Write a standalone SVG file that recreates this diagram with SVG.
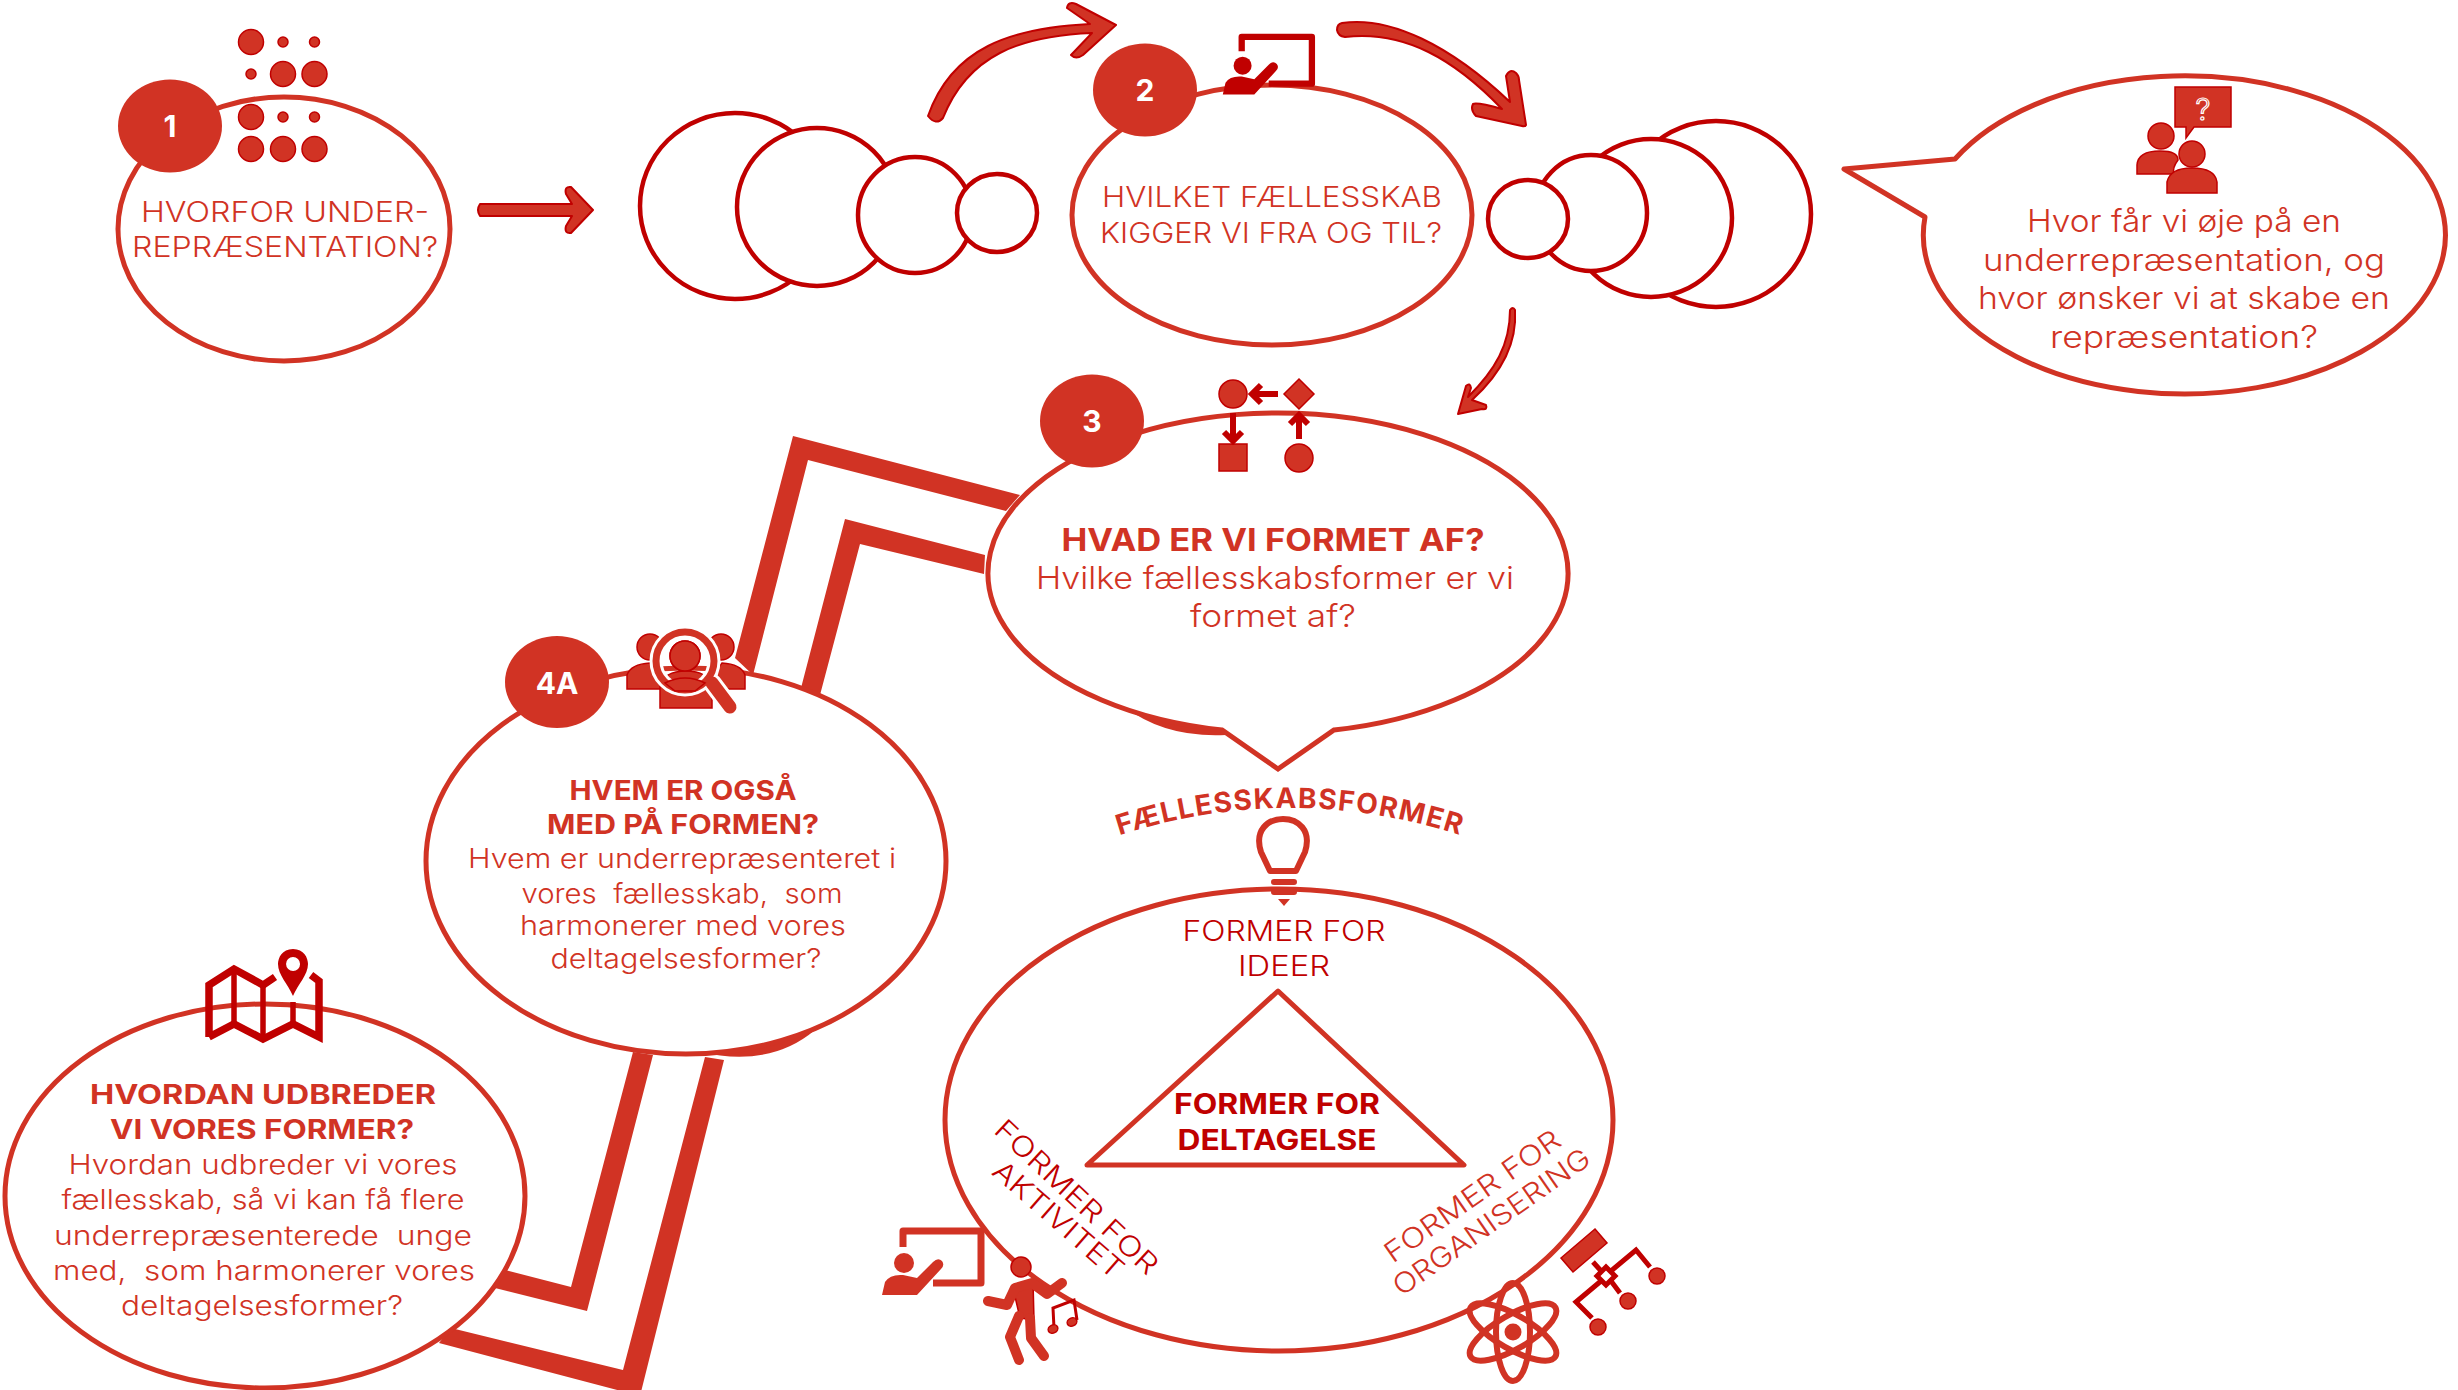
<svg xmlns="http://www.w3.org/2000/svg" xmlns:xlink="http://www.w3.org/1999/xlink" width="2458" height="1390" viewBox="0 0 2458 1390">
<style>
text{font-family:"Inter","Liberation Sans",sans-serif;fill:#d13324;font-weight:300;text-anchor:middle;white-space:pre}
.b{font-weight:700}
.d{fill:#c00000}
.bub{fill:#fff;stroke:#d13324;stroke-width:5}
.st{fill:#fff;stroke:#c00000;stroke-width:4.5}
.num{fill:#d13324}
.numt{fill:#fff;font-weight:700;font-size:30px}
.ic{fill:#d13324;stroke:#c00000;stroke-width:1.5}
.dk{fill:#c00000}
.ln{fill:none;stroke:#d13324;stroke-linecap:round;stroke-linejoin:round}
.band{fill:#d13324}
.arr{fill:#d13324;stroke:#c00000;stroke-width:2;stroke-linejoin:round}
</style>
<defs>
<g id="teacher">
<path d="M903 1247V1231H981V1283H933" fill="none" stroke-width="7" stroke-linejoin="round"/>
<circle cx="904" cy="1263" r="10" stroke="none"/>
<path d="M882 1295L885 1282Q890 1274 903 1275L917 1278L933 1262Q938 1257 942 1261Q945 1265 941 1269L917 1295Z" stroke="none"/>
</g>
</defs>
<rect width="2458" height="1390" fill="#fff"/>
<g id="connectors">
<polygon class="band" points="1020,495 793,436 735,658 753,675 808,460 1006,511"/>
<polygon class="band" points="985,555 845,519 801,688 820,695 860,544 984,574"/>
<polygon class="band" points="633,1052 571,1287 505,1270 495,1288 587,1311 653,1055"/>
<polygon class="band" points="705,1057 623,1370 451,1328 439,1343 640,1396 724,1060"/>
<path class="band" d="M700 1052Q770 1068 815 1030L800 1020L700 1040Z"/>
<path class="band" d="M1125 707Q1165 738 1226 735L1226 720L1130 695Z"/>
<path class="arr" d="M480 204H572L566 194Q564 186 571 187L593 210L571 233Q564 234 566 226L572 216H480Q476 210 480 204Z"/>
<path class="arr" d="M928 116C952 48 1010 28 1090 24L1067 8Q1068 1 1076 4L1116 25L1083 55Q1076 60 1071 55L1092 33C1020 36 968 55 943 118Q936 126 928 116Z"/>
<path class="arr" d="M1337 30Q1337 24 1342 23C1390 16 1450 45 1510 102L1506 76Q1510 68 1516 73Q1519 76 1519 80L1526 125Q1525 127 1522 126L1476 116Q1470 110 1473 104Q1477 102 1502 109C1455 60 1405 30 1345 37Q1338 36 1337 30Z"/>
<path class="arr" d="M1510 310Q1513 306 1515 310C1517 340 1505 370 1472 400L1486 405Q1488 410 1482 409L1458 414L1466 386Q1470 382 1471 388L1468 397C1495 370 1510 345 1510 310Z"/>
</g>
<g id="stack-left">
<ellipse class="st" cx="735" cy="206" rx="95" ry="93"/>
<ellipse class="st" cx="817" cy="207" rx="80" ry="79"/>
<ellipse class="st" cx="915" cy="215" rx="57" ry="58"/>
<ellipse class="st" cx="997" cy="213" rx="40" ry="39"/>
</g>
<g id="stack-right">
<ellipse class="st" cx="1716" cy="214" rx="95" ry="93"/>
<ellipse class="st" cx="1651" cy="218" rx="81" ry="79"/>
<ellipse class="st" cx="1591" cy="213" rx="56" ry="58"/>
<ellipse class="st" cx="1528" cy="219" rx="40" ry="39"/>
</g>
<g id="node-1">
<ellipse class="bub" cx="284" cy="229" rx="166" ry="132"/>
<ellipse class="num" cx="170" cy="126" rx="52" ry="46.5"/>
<text class="numt" x="170" y="137">1</text>
<g class="ic">
<ellipse cx="251" cy="42" rx="12.5" ry="12.5"/><circle cx="283" cy="42" r="5"/><circle cx="314.500" cy="42" r="5"/>
<circle cx="251" cy="74" r="5"/><ellipse cx="283" cy="74" rx="12.5" ry="12.5"/><ellipse cx="314.500" cy="74" rx="12.5" ry="12.5"/>
<ellipse cx="251" cy="117" rx="12.5" ry="12.5"/><circle cx="283" cy="117" r="5"/><circle cx="314.500" cy="117" r="5"/>
<ellipse cx="251" cy="149" rx="12.5" ry="12.5"/><ellipse cx="283" cy="149" rx="12.5" ry="12.5"/><ellipse cx="314.500" cy="149" rx="12.5" ry="12.5"/>
</g>
<text x="285" y="222" font-size="28" textLength="288" lengthAdjust="spacingAndGlyphs">HVORFOR UNDER-</text>
<text x="285" y="257" font-size="28" textLength="306" lengthAdjust="spacingAndGlyphs">REPRÆSENTATION?</text>
</g>
<g id="node-2">
<ellipse class="bub" cx="1272" cy="215" rx="200" ry="130"/>
<ellipse class="num" cx="1145" cy="90" rx="52" ry="46.5"/>
<text class="numt" x="1145" y="101">2</text>
<use href="#teacher" transform="translate(429,-1071) scale(.9)" fill="#c00000" stroke="#c00000"/>
<text x="1272" y="207" font-size="28" textLength="340" lengthAdjust="spacingAndGlyphs">HVILKET FÆLLESSKAB</text>
<text x="1271" y="243" font-size="28" textLength="342" lengthAdjust="spacingAndGlyphs">KIGGER VI FRA OG TIL?</text>
</g>
<g id="node-question">
<path class="bub" d="M1955 159A261 159 0 1 1 1925 217L1844 169Z" stroke-linejoin="round"/>
<path class="ic" d="M2175 87H2231V127H2194L2186 138L2186 127H2175Z"/>
<text x="2203" y="120" font-size="30" style="fill:#d13324;stroke:#fff;stroke-width:1.2">?</text>
<g class="ic">
<ellipse cx="2161" cy="136" rx="13" ry="13"/>
<path d="M2137 174V165Q2138 151 2160 151Q2178 151 2178 160Q2172 168 2174 174Z"/>
<ellipse cx="2192" cy="154" rx="13" ry="13"/>
<path d="M2167 193V182Q2170 168 2192 168Q2215 168 2217 182V193Z"/>
</g>
<text x="2184" y="232" font-size="31" textLength="314" lengthAdjust="spacingAndGlyphs">Hvor får vi øje på en</text>
<text x="2184" y="271" font-size="31" textLength="402" lengthAdjust="spacingAndGlyphs">underrepræsentation, og</text>
<text x="2184" y="309" font-size="31" textLength="412" lengthAdjust="spacingAndGlyphs">hvor ønsker vi at skabe en</text>
<text x="2184" y="348" font-size="31" textLength="268" lengthAdjust="spacingAndGlyphs">repræsentation?</text>
</g>
<g id="node-3">
<path class="bub" d="M1334 730A290 160 0 1 0 1222 730L1278 769Z"/>
<ellipse class="num" cx="1092" cy="421" rx="52" ry="46.5"/>
<text class="numt" x="1092" y="432">3</text>
<g class="ic">
<circle cx="1233" cy="394" r="14"/><path d="M1299 379L1314 394L1299 409L1284 394Z"/>
<rect x="1219" y="444" width="28" height="27"/><circle cx="1299" cy="458" r="14"/>
</g>
<path d="M1278 394H1252M1261 385L1252 394L1261 403" fill="none" stroke="#c00000" stroke-width="6"/>
<path d="M1233 413V441M1224 432L1233 441L1242 432" fill="none" stroke="#c00000" stroke-width="6"/>
<path d="M1299 439V415M1290 424L1299 415L1308 424" fill="none" stroke="#c00000" stroke-width="6"/>
<text class="b" x="1273" y="551" font-size="31" textLength="423" lengthAdjust="spacingAndGlyphs">HVAD ER VI FORMET AF?</text>
<text x="1275" y="589" font-size="31" textLength="478" lengthAdjust="spacingAndGlyphs">Hvilke fællesskabsformer er vi</text>
<text x="1273" y="627" font-size="31" textLength="166" lengthAdjust="spacingAndGlyphs">formet af?</text>
</g>
<g id="node-4a">
<ellipse class="bub" cx="686" cy="861" rx="260" ry="193"/>
<ellipse class="num" cx="557" cy="682" rx="52" ry="46"/>
<text class="numt" x="557" y="694" font-size="32">4A</text>
<g class="ic">
<ellipse cx="650" cy="647" rx="13" ry="13"/><ellipse cx="721" cy="647" rx="13" ry="13"/>
<path d="M627 689V675Q631 664 650 663L670 689Z"/><path d="M745 689V675Q741 664 722 663L702 689Z"/>
</g>
<g class="ic">
<ellipse cx="685" cy="656" rx="15" ry="15"/>
<path d="M660 708V686Q664 671 686 671Q708 671 712 686V708Z"/>
</g>
<circle cx="685" cy="661" r="29" fill="none" stroke="#fff" stroke-width="13"/>
<path d="M712 683L730 707" stroke="#fff" stroke-width="19" stroke-linecap="round"/>
<circle cx="685" cy="661" r="29" fill="none" stroke="#d13324" stroke-width="7"/>
<path d="M712 683L730 707" stroke="#d13324" stroke-width="13" stroke-linecap="round"/>
<path d="M685 656m-15 0a15 15 0 1 0 30 0a15 15 0 1 0-30 0" class="ic"/>
<path d="M665 683Q685 673 705 683L695 691L675 691Z" class="ic"/>
<text class="b" x="683" y="800" font-size="27" textLength="227" lengthAdjust="spacingAndGlyphs">HVEM ER OGSÅ</text>
<text class="b" x="683" y="834" font-size="27" textLength="272" lengthAdjust="spacingAndGlyphs">MED PÅ FORMEN?</text>
<text x="682" y="868" font-size="27.500" textLength="428" lengthAdjust="spacingAndGlyphs">Hvem er underrepræsenteret i</text>
<text x="682" y="903" font-size="27.500" textLength="321" lengthAdjust="spacingAndGlyphs">vores  fællesskab,  som</text>
<text x="683" y="935" font-size="27.500" textLength="326" lengthAdjust="spacingAndGlyphs">harmonerer med vores</text>
<text x="686" y="968" font-size="27.500" textLength="271" lengthAdjust="spacingAndGlyphs">deltagelsesformer?</text>
</g>
<g id="node-5">
<ellipse class="bub" cx="265" cy="1196" rx="260" ry="192"/>
<path d="M209 1037L234 1024L263 1039L293 1024L319 1037V981L311 975M209 1037V985L234 969L263 985L275 977" fill="none" stroke="#c00000" stroke-width="7.500"/>
<path d="M234 969V1024M263 985V1039M293 1002V1024" fill="none" stroke="#c00000" stroke-width="5.500"/>
<path fill-rule="evenodd" d="M293 949C304 949 308 958 308 964C308 975 298 984 293 996C288 984 278 975 278 964C278 958 282 949 293 949ZM293 957A7 7 0 1 0 293.100 971A7 7 0 1 0 293 957Z" class="dk"/>
<text class="b" x="263" y="1104" font-size="27" textLength="346" lengthAdjust="spacingAndGlyphs">HVORDAN UDBREDER</text>
<text class="b" x="262" y="1139" font-size="27" textLength="304" lengthAdjust="spacingAndGlyphs">VI VORES FORMER?</text>
<text x="263" y="1174" font-size="27.500" textLength="389" lengthAdjust="spacingAndGlyphs">Hvordan udbreder vi vores</text>
<text x="263" y="1209" font-size="27.500" textLength="403" lengthAdjust="spacingAndGlyphs">fællesskab, så vi kan få flere</text>
<text x="263" y="1245" font-size="27.500" textLength="418" lengthAdjust="spacingAndGlyphs">underrepræsenterede  unge</text>
<text x="264" y="1280" font-size="27.500" textLength="422" lengthAdjust="spacingAndGlyphs">med,  som harmonerer vores</text>
<text x="262" y="1315" font-size="27.500" textLength="282" lengthAdjust="spacingAndGlyphs">deltagelsesformer?</text>
</g>
<g id="node-forms">
<ellipse class="bub" cx="1279" cy="1120" rx="334" ry="231"/>
<path d="M1278 991L1464 1165H1087Z" fill="none" stroke="#d13324" stroke-width="5" stroke-linejoin="round"/>
<path id="arc" d="M1105 840Q1290 776 1475 840" fill="none"/>
<text class="b" font-size="28" letter-spacing="1.4"><textPath href="#arc" startOffset="50%">FÆLLESSKABSFORMER</textPath></text>
<path d="M1270 871L1261 852C1254 830 1268 819 1283 819C1298 819 1312 830 1305 852L1296 871Z" fill="none" stroke="#d13324" stroke-width="6" stroke-linejoin="round"/>
<path d="M1274 882H1294M1274 892H1294" stroke="#d13324" stroke-width="6" stroke-linecap="round"/>
<path d="M1278 899H1290L1284 906Z" class="band"/>
<text class="d" x="1284" y="941" font-size="28" textLength="203" lengthAdjust="spacingAndGlyphs">FORMER FOR</text>
<text class="d" x="1284" y="976" font-size="28" textLength="92" lengthAdjust="spacingAndGlyphs">IDEER</text>
<text class="b d" x="1277" y="1114" font-size="28" textLength="206" lengthAdjust="spacingAndGlyphs">FORMER FOR</text>
<text class="b d" x="1277" y="1150" font-size="28" textLength="199" lengthAdjust="spacingAndGlyphs">DELTAGELSE</text>
<text class="d" transform="translate(1070,1204) rotate(43)" font-size="28" textLength="212" lengthAdjust="spacingAndGlyphs">FORMER FOR</text>
<text class="d" transform="translate(1052,1227) rotate(41)" font-size="28" textLength="163" lengthAdjust="spacingAndGlyphs">AKTIVITET</text>
<text transform="translate(1478,1204) rotate(-35)" font-size="28" textLength="208" lengthAdjust="spacingAndGlyphs">FORMER FOR</text>
<text transform="translate(1497,1230) rotate(-35)" font-size="28" textLength="234" lengthAdjust="spacingAndGlyphs">ORGANISERING</text>
<use href="#teacher" fill="#d13324" stroke="#d13324"/>
<circle cx="1021" cy="1267" r="10" class="ic"/>
<path class="ic" d="M1013 1288L1033 1281L1034 1320L1020 1318Z"/>
<path d="M988 1301L1007 1305L1015 1288L1032 1283L1047 1294L1062 1283M1019 1316L1010 1337L1019 1360M1030 1318L1031 1338L1044 1356" fill="none" stroke="#d13324" stroke-width="10" stroke-linecap="round" stroke-linejoin="round"/>
<path d="M1054 1328L1053 1308L1074 1300L1077 1320" fill="none" stroke="#c00000" stroke-width="3"/>
<ellipse cx="1053" cy="1329" rx="5" ry="4" transform="rotate(-25 1053 1329)" class="ic"/><ellipse cx="1072" cy="1322" rx="5" ry="4" transform="rotate(-25 1072 1322)" class="ic"/>
<g fill="none" stroke="#d13324" stroke-width="6">
<ellipse cx="1513" cy="1332" rx="17" ry="49"/>
<ellipse cx="1513" cy="1332" rx="17" ry="49" transform="rotate(60 1513 1332)"/>
<ellipse cx="1513" cy="1332" rx="17" ry="49" transform="rotate(-60 1513 1332)"/>
</g>
<circle cx="1513" cy="1332" r="8.500" class="band"/>
<g class="ic">
<polygon points="1595,1229 1607,1243 1573,1272 1561,1258"/>
<circle cx="1657" cy="1276" r="8"/><circle cx="1628" cy="1301" r="8"/><circle cx="1598" cy="1327" r="8"/>
</g>
<path d="M1593 1262L1602 1272M1606 1267L1615 1276L1606 1285L1597 1276ZM1611 1271L1636 1250L1650 1267M1611 1281L1620 1293M1601 1281L1576 1302L1592 1318" fill="none" stroke="#c00000" stroke-width="5"/>
</g>
</svg>
